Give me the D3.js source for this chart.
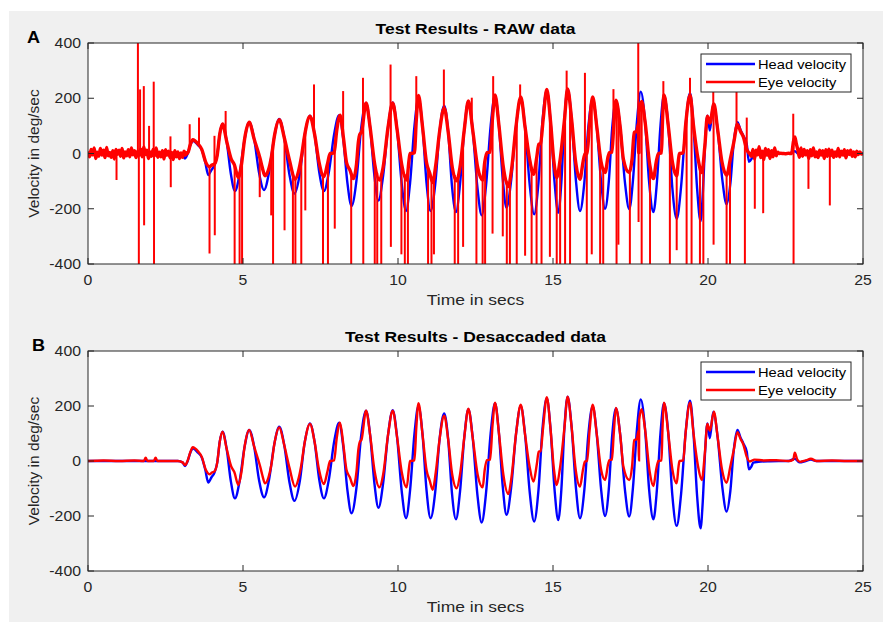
<!DOCTYPE html>
<html>
<head>
<meta charset="utf-8">
<script src="https://cdn.jsdelivr.net/npm/d3@7"></script>
<style>
  html, body { margin: 0; padding: 0; background: #fff; }
  svg { display: block; font-family: "Liberation Sans", Arial, Helvetica, sans-serif; }
</style>
</head>
<body>
<svg id="chart" width="883" height="622"></svg>
<script>
// axis ticks
const xTicks = [0, 5, 10, 15, 20, 25];
const yTicks = [-400, -200, 0, 200, 400];
const seriesNames = ['Head velocity', 'Eye velocity'];

// head velocity [time s, deg/sec] (same recording in both panels)
const headVelocity = [
  [0,0],[1,0],[2,0],[2.9,0],[3.05,-5],[3.13,-18],[3.21,-2],[3.3,30],[3.38,46],[3.55,30],
  [3.67,13],[3.78,-30],[3.88,-78],[3.98,-60],[4.08,-42],[4.17,-5],[4.25,70],[4.34,107],[4.47,46],[4.61,-75],
  [4.74,-136],[4.89,-74],[5.05,51],[5.2,113],[5.36,52],[5.52,-71],[5.68,-132],[5.84,-68],[6.01,61],[6.17,125],
  [6.33,58],[6.5,-78],[6.66,-145],[6.83,-75],[6.99,67],[7.16,137],[7.31,69],[7.46,-68],[7.61,-136],[7.77,-67],
  [7.94,70],[8.1,139],[8.23,57],[8.37,-108],[8.5,-190],[8.66,-97],[8.81,90],[8.97,183],[9.1,95],[9.24,-82],
  [9.37,-170],[9.52,-81],[9.68,96],[9.83,185],[9.97,87],[10.12,-110],[10.26,-208],[10.39,-106],[10.53,98],[10.66,200],
  [10.79,98],[10.92,-106],[11.05,-208],[11.2,-113],[11.34,78],[11.49,173],[11.62,77],[11.74,-116],[11.87,-212],[12.0,-112],
  [12.14,88],[12.27,188],[12.41,85],[12.56,-121],[12.7,-224],[12.84,-116],[12.99,102],[13.13,210],[13.25,108],[13.38,-94],
  [13.5,-196],[13.65,-97],[13.81,101],[13.96,200],[14.1,95],[14.25,-115],[14.39,-220],[14.53,-108],[14.66,116],[14.8,228],
  [14.92,117],[15.05,-104],[15.17,-215],[15.27,-103],[15.37,122],[15.47,234],[15.6,124],[15.74,-98],[15.87,-208],[16.01,-106],
  [16.14,96],[16.28,198],[16.41,99],[16.55,-101],[16.68,-200],[16.8,-102],[16.91,93],[17.03,191],[17.17,93],[17.32,-104],
  [17.46,-202],[17.58,-96],[17.71,118],[17.83,224],[17.97,115],[18.1,-103],[18.24,-212],[18.35,-107],[18.47,105],[18.58,210],
  [18.72,99],[18.85,-125],[18.99,-236],[19.13,-122],[19.28,105],[19.42,219],[19.53,103],[19.65,-129],[19.76,-245],[19.83,-150],
  [19.91,42],[19.98,137],[20.06,83],[20.17,179],[20.31,88],[20.46,-93],[20.6,-184],[20.72,-110],[20.83,39],[20.95,113],
  [21.05,85],[21.14,64],[21.25,34],[21.32,-30],[21.4,-20],[21.46,-6],[21.7,-2],[22,-1],[22.6,0],[22.8,8],
  [22.95,-5],[23.15,0],[23.32,5],[23.5,0],[24,0],[25,0]
];

// desaccaded eye velocity [time s, deg/sec]
const eyeVelocity = [
  [0,0],[0.5,2],[1,0],[1.5,2],[1.8,0],[1.86,12],[1.92,0],[2.12,0],[2.18,12],[2.24,0],
  [2.9,0],[3.05,-5],[3.13,-15],[3.21,0],[3.3,32],[3.38,50],[3.55,35],[3.67,15],[3.8,-32],[3.92,-48],
  [4.0,-42],[4.08,-38],[4.17,-5],[4.25,70],[4.34,107],[4.47,46],[4.62,-20],[4.72,-40],[4.85,-87],[4.95,-40],
  [5.05,51],[5.2,113],[5.36,52],[5.55,-18],[5.62,-50],[5.71,-81],[5.82,-60],[5.92,-10],[6.01,61],[6.17,122],
  [6.33,58],[6.5,-25],[6.68,-93],[6.8,-60],[6.88,-15],[6.99,67],[7.16,135],[7.31,69],[7.45,-30],[7.61,-84],
  [7.72,-40],[7.81,0],[7.94,2],[8.02,80],[8.13,139],[8.24,57],[8.34,-33],[8.45,-60],[8.56,-91],[8.66,-40],
  [8.72,40],[8.77,70],[8.82,76],[8.97,183],[9.1,95],[9.25,-40],[9.4,-96],[9.52,-50],[9.68,96],[9.83,183],
  [9.97,87],[10.12,-40],[10.28,-96],[10.36,-20],[10.39,0],[10.53,2],[10.59,120],[10.66,210],[10.79,98],[10.92,-33],
  [11.02,-70],[11.12,-105],[11.22,-40],[11.34,78],[11.49,165],[11.62,77],[11.75,-50],[11.89,-99],[12.0,-50],[12.14,88],
  [12.27,190],[12.41,85],[12.57,-50],[12.73,-96],[12.8,-30],[12.87,3],[12.97,5],[13.05,130],[13.13,212],[13.25,108],
  [13.4,-51],[13.56,-120],[13.66,-60],[13.81,101],[13.96,205],[14.1,95],[14.24,-17],[14.37,-75],[14.48,-10],[14.54,34],
  [14.6,36],[14.68,120],[14.8,232],[14.92,117],[15.03,-30],[15.12,-87],[15.22,-30],[15.37,122],[15.47,234],[15.6,124],
  [15.73,-30],[15.87,-93],[15.97,-30],[16.03,-2],[16.1,0],[16.18,110],[16.28,205],[16.41,99],[16.55,-30],[16.68,-69],
  [16.78,-10],[16.82,3],[16.9,5],[16.96,100],[17.03,193],[17.17,93],[17.27,-20],[17.46,-69],[17.55,-20],[17.62,76],
  [17.7,80],[17.76,110],[17.765,3],[17.775,3],[17.78,150],[17.86,188],[17.97,115],[18.12,-40],[18.24,-91],[18.33,-30],
  [18.4,0],[18.5,2],[18.53,110],[18.58,212],[18.72,99],[18.85,-30],[18.99,-81],[19.05,-20],[19.08,0],[19.2,2],
  [19.28,105],[19.42,212],[19.53,103],[19.68,-20],[19.8,-69],[19.9,30],[19.98,135],[20.06,110],[20.19,179],[20.31,88],
  [20.45,-30],[20.6,-79],[20.72,-20],[20.83,39],[20.95,105],[21.05,80],[21.14,60],[21.25,15],[21.35,-2],[21.5,5],
  [21.8,2],[22.2,3],[22.6,0],[22.75,5],[22.8,30],[22.88,5],[22.97,-3],[23.15,2],[23.32,8],[23.5,0],
  [24,2],[24.5,0],[25,0]
];

// raw eye jitter before/after the head impulses, one reading every 0.05 s
const rawNoiseStep = 0.05;
const rawNoiseStartTime = 0;
const rawNoiseStart = [
  8,-12,15,-5,20,-18,5,-10,18,-6,
  12,-15,22,-8,4,-14,10,-20,15,-3,
  12,-10,18,-16,6,-8,14,-12,20,-5,
  10,-15,8,-6,16,-12,24,-4,12,-18,
  6,-10,15,-8,20,-14,5,-12,10,-20,
  14,-6,8,-16,4,-22,10,-12,6,-18,
  2,-14,8,-6,4
];
const rawNoiseEndTime = 21.4;
const rawNoiseEnd = [
  -10,15,-20,12,-5,25,-15,8,-22,18,-6,14,-18,10,-12,20,-8,5,
  0,1,0,0,-1,0,1,0,0,
  40,60,35,
  12,-14,20,-10,15,-5,10,-18,14,-8,20,-12,6,-15,12,-6,10,-18,14,-10,
  16,-8,12,-14,6,-10,18,-12,8,-6,14,-16,10,-4,12,-10,6,-12,8,-4,6,-2,3
];

// saccade spikes in the raw eye trace [time s, spike tip deg/sec]
const rawSpikes = [
  [0.92,-96],[1.61,420],[1.64,-420],[1.68,232],[1.80,244],[1.81,-260],[1.97,100],[2.12,260],[2.13,-420],
  [2.66,62],[2.67,-122],[3.28,106],[3.58,130],[3.92,-362],[4.08,64],[4.09,-296],[4.44,154],
  [4.73,-420],[4.89,-420],[4.97,-420],[5.54,-158],[5.91,-224],[5.97,-420],[6.34,-278],[6.61,-420],
  [6.69,-420],[6.88,-420],[7.01,-206],[7.29,250],[7.58,-420],[7.74,-420],[7.96,-272],[8.23,226],
  [8.49,-420],[8.87,274],[8.88,-420],[9.25,-420],[9.33,-420],[9.46,-420],[9.76,322],[9.77,-338],
  [10.11,-365],[10.22,-420],[10.32,-420],[10.59,280],[10.97,-420],[11.08,-420],[11.16,-365],[11.48,304],
  [11.83,-420],[11.94,-420],[12.1,-338],[12.38,202],[12.53,-420],[12.73,-420],[12.81,-420],[13.05,-290],
  [13.07,280],[13.38,-300],[13.51,-420],[13.61,-420],[13.83,-420],[13.94,250],[14.1,-370],[14.31,-420],
  [14.47,-420],[14.63,-420],[14.9,-374],[15.12,-420],[15.23,-420],[15.39,-420],[15.44,300],[15.55,-420],
  [16.03,292],[16.09,-420],[16.25,-365],[16.52,-420],[16.62,-420],[16.95,233],[17.05,-420],[17.11,-330],
  [17.48,-420],[17.75,420],[17.76,-248],[17.86,-420],[18.13,-420],[18.56,262],[18.77,-420],[18.99,-350],
  [19.31,-420],[19.42,274],[19.47,-420],[19.74,-420],[19.85,-420],[20.17,298],[20.18,-330],[20.6,-420],
  [20.71,-420],[20.92,250],[21.19,-420],[21.25,130],[21.51,-200],[21.78,-216],[22.75,144],[22.76,-420],
  [23.24,-128],[23.93,-188]
];

const colors = { head: '#0000ff', eye: '#ff0000', axis: '#262626' };
// the picture is a little wider than tall, so horizontal text is stretched
const textStretch = 1.13;

// build the raw eye trace: jitter + desaccaded shape in the middle
const rawStart = rawNoiseStart.map((v, i) => [+(rawNoiseStartTime + i * rawNoiseStep).toFixed(3), v]);
const rawEnd = rawNoiseEnd.map((v, i) => [+(rawNoiseEndTime + i * rawNoiseStep).toFixed(3), v]);
const eyeRaw = rawStart.concat(
  eyeVelocity.filter(d => d[0] > rawStart[rawStart.length - 1][0] && d[0] < rawNoiseEndTime),
  rawEnd
);
const rawBaseAt = d3.scaleLinear().domain(eyeRaw.map(d => d[0])).range(eyeRaw.map(d => d[1]));

const panels = [
  { id: 'A', title: 'Test Results - RAW data', top: 43, bottom: 264, raw: true },
  { id: 'B', title: 'Test Results - Desaccaded data', top: 351, bottom: 571, raw: false }
];
const left = 88, right = 863;

const svg = d3.select('#chart');

svg.append('rect')
  .attr('x', 9).attr('y', 11)
  .attr('width', 874).attr('height', 611)
  .attr('fill', '#f0f0f0');

const x = d3.scaleLinear().domain([0, 25]).range([left, right]);

function hText(parent, tx, ty) {
  return parent.append('text')
    .attr('transform', `translate(${tx},${ty}) scale(${textStretch},1)`);
}

panels.forEach(p => {
  const y = d3.scaleLinear().domain([-400, 400]).range([p.bottom, p.top]);
  const g = svg.append('g');

  g.append('rect')
    .attr('x', left).attr('y', p.top)
    .attr('width', right - left).attr('height', p.bottom - p.top)
    .attr('fill', '#fff');

  const clipId = 'clip-' + p.id;
  svg.append('clipPath').attr('id', clipId)
    .append('rect')
    .attr('x', left).attr('y', p.top)
    .attr('width', right - left).attr('height', p.bottom - p.top);

  const line = d3.line()
    .x(d => x(d[0]))
    .y(d => y(d[1]))
    .curve(d3.curveMonotoneX);

  const plot = g.append('g').attr('clip-path', `url(#${clipId})`);

  plot.append('path')
    .datum(headVelocity)
    .attr('fill', 'none')
    .attr('stroke', colors.head)
    .attr('stroke-width', 2.4)
    .attr('d', line);

  if (p.raw) {
    plot.append('path')
      .datum(eyeRaw)
      .attr('fill', 'none')
      .attr('stroke', colors.eye)
      .attr('stroke-width', 3.4)
      .attr('stroke-linejoin', 'round')
      .attr('d', line);

    plot.selectAll('line.spike')
      .data(rawSpikes)
      .join('line')
      .attr('class', 'spike')
      .attr('x1', d => x(d[0]))
      .attr('x2', d => x(d[0]))
      .attr('y1', d => y(rawBaseAt(d[0])))
      .attr('y2', d => y(d[1]))
      .attr('stroke', colors.eye)
      .attr('stroke-width', 2);
  } else {
    plot.append('path')
      .datum(eyeVelocity)
      .attr('fill', 'none')
      .attr('stroke', colors.eye)
      .attr('stroke-width', 2.4)
      .attr('d', line);
  }

  // box and inward ticks (top/bottom, left/right)
  g.append('rect')
    .attr('x', left).attr('y', p.top)
    .attr('width', right - left).attr('height', p.bottom - p.top)
    .attr('fill', 'none')
    .attr('stroke', colors.axis)
    .attr('stroke-width', 1);

  const tickLen = 6;
  xTicks.forEach(t => {
    g.append('line')
      .attr('x1', x(t)).attr('x2', x(t))
      .attr('y1', p.bottom).attr('y2', p.bottom - tickLen)
      .attr('stroke', colors.axis);
    g.append('line')
      .attr('x1', x(t)).attr('x2', x(t))
      .attr('y1', p.top).attr('y2', p.top + tickLen)
      .attr('stroke', colors.axis);
  });
  yTicks.forEach(v => {
    g.append('line')
      .attr('x1', left).attr('x2', left + tickLen)
      .attr('y1', y(v)).attr('y2', y(v))
      .attr('stroke', colors.axis);
    g.append('line')
      .attr('x1', right).attr('x2', right - tickLen)
      .attr('y1', y(v)).attr('y2', y(v))
      .attr('stroke', colors.axis);
  });

  xTicks.forEach(t => {
    hText(g, x(t), p.bottom + 21)
      .attr('text-anchor', 'middle')
      .attr('font-size', 14)
      .attr('fill', colors.axis)
      .text(t);
  });

  yTicks.forEach(v => {
    hText(g, left - 7, y(v))
      .attr('dy', '0.36em')
      .attr('text-anchor', 'end')
      .attr('font-size', 14)
      .attr('fill', colors.axis)
      .text(v);
  });

  hText(g, (left + right) / 2, p.bottom + 41)
    .attr('text-anchor', 'middle')
    .attr('font-size', 15.5)
    .attr('fill', colors.axis)
    .text('Time in secs');

  g.append('text')
    .attr('transform', `translate(39,${(p.top + p.bottom) / 2}) rotate(-90)`)
    .attr('text-anchor', 'middle')
    .attr('font-size', 15.5)
    .attr('fill', colors.axis)
    .text('Velocity in deg/sec');

  hText(g, (left + right) / 2, p.top - 9)
    .attr('text-anchor', 'middle')
    .attr('font-size', 15.5)
    .attr('font-weight', 'bold')
    .attr('fill', '#000')
    .text(p.title);

  hText(g, p.id === 'A' ? 27 : 32, p.top)
    .attr('font-size', 16)
    .attr('font-weight', 'bold')
    .attr('fill', '#000')
    .text(p.id);

  // legend
  const lg = g.append('g').attr('transform', `translate(701,${p.top + 11})`);
  lg.append('rect')
    .attr('width', 150).attr('height', 38)
    .attr('fill', '#fff')
    .attr('stroke', colors.axis);
  [colors.head, colors.eye].forEach((c, i) => {
    const yy = 10 + i * 18;
    lg.append('line')
      .attr('x1', 5).attr('x2', 54)
      .attr('y1', yy).attr('y2', yy)
      .attr('stroke', c).attr('stroke-width', 2.4);
    hText(lg, 57, yy)
      .attr('dy', '0.36em')
      .attr('font-size', 13)
      .attr('fill', '#000')
      .text(seriesNames[i]);
  });
});
</script>
</body>
</html>
